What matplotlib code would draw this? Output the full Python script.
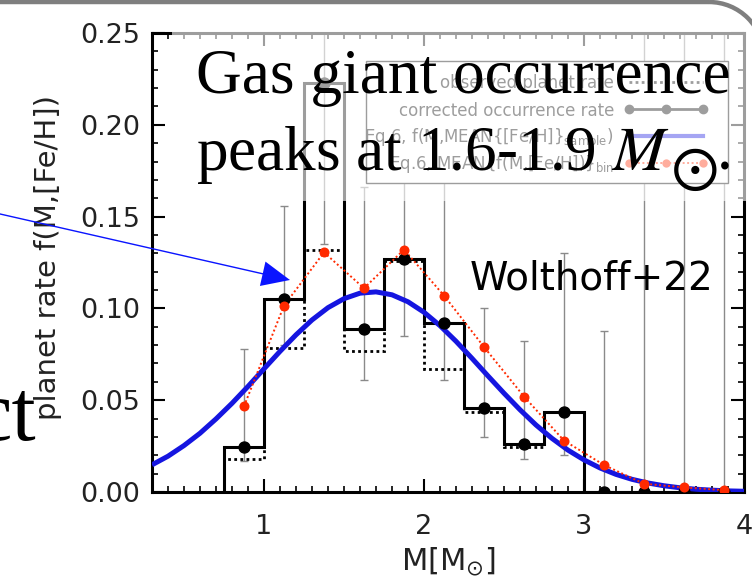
import matplotlib
matplotlib.use('Agg')
import matplotlib.pyplot as plt
from matplotlib.patches import Rectangle, Arc, FancyArrow
from matplotlib.ticker import MultipleLocator, FormatStrFormatter

plt.rcParams['font.family'] = ['DejaVu Sans']
plt.rcParams['mathtext.fontset'] = 'dejavusans'

# ---------------- data ----------------
bin_edges = [0.75, 1.00, 1.25, 1.50, 1.75, 2.00, 2.25, 2.50, 2.75, 3.00, 3.25, 3.50, 3.75, 4.00]
bin_centers = [0.875, 1.125, 1.375, 1.625, 1.875, 2.125, 2.375, 2.625, 2.875, 3.125, 3.375, 3.625, 3.875]
observed_rate = [0.018, 0.0785, 0.132, 0.0767, 0.126, 0.067, 0.0437, 0.0245, 0.0435, 0, 0, 0, 0]
corrected_rate = [0.0245, 0.105, 0.223, 0.089, 0.127, 0.092, 0.0457, 0.026, 0.0435, 0, 0, 0, 0]
corrected_lo = [0.017, 0.080, 0.135, 0.061, 0.085, 0.061, 0.030, 0.018, 0.020, 0, 0, 0, 0]
corrected_hi = [0.078, 0.156, 0.300, 0.166, 0.200, 0.200, 0.100, 0.082, 0.130, 0.0875, 0.300, 0.300, 0.300]
eq6_bin_mean = [0.0467, 0.1015, 0.1305, 0.111, 0.132, 0.107, 0.079, 0.052, 0.028, 0.0147, 0.0045, 0.0025, 0.001]
model_mass = [0.3, 0.4, 0.5, 0.6, 0.7, 0.8, 0.9, 1.0, 1.1, 1.2, 1.3, 1.4, 1.5, 1.6, 1.7, 1.8, 1.9,
              2.0, 2.1, 2.2, 2.3, 2.4, 2.5, 2.6, 2.7, 2.8, 2.9, 3.0, 3.1, 3.2, 3.3, 3.4, 3.5, 3.6,
              3.7, 3.8, 3.9, 4.0]
model_rate = [0.0148, 0.0195, 0.0253, 0.0320, 0.0398, 0.0483, 0.0575, 0.0671, 0.0766, 0.0856,
              0.0937, 0.1004, 0.1053, 0.1083, 0.1090, 0.1074, 0.1036, 0.0979, 0.0906, 0.0821,
              0.0728, 0.0632, 0.0538, 0.0448, 0.0365, 0.0292, 0.0228, 0.0175, 0.0131, 0.0096,
              0.0069, 0.0049, 0.0034, 0.0023, 0.0015, 0.0010, 0.0006, 0.0004]
legend_labels = ['observed planet rate',
                 'corrected occurrence rate',
                 r'Eq.6, f(M,MEAN{[Fe/H]}$_{\rm sample}$)',
                 r'Eq.6, MEAN{f(M,[Fe/H])}$_{\rm bin}$']
x_label = r'M[M$_{\odot}$]'
y_label = 'planet rate f(M,[Fe/H])'

BLUE = '#1515e0'
RED = '#ff2a00'
GRAY = '#8a8a8a'

W, H = 752, 576
fig = plt.figure(figsize=(W / 100, H / 100), dpi=100)
ax = fig.add_axes([152 / W, 84 / H, 592 / W, 459 / H])

err_low = [c - lo for c, lo in zip(corrected_rate, corrected_lo)]
err_high = [hi - c for c, hi in zip(corrected_rate, corrected_hi)]
ax.errorbar(bin_centers, corrected_rate, yerr=[err_low, err_high], fmt='none',
            ecolor=GRAY, elinewidth=1.0, capsize=3.2, capthick=1.0, zorder=2)
ax.stairs(observed_rate, bin_edges, baseline=0, color='k', lw=2.0,
          linestyle=(0, (1, 1.2)), zorder=3)
ax.stairs(corrected_rate, bin_edges, baseline=0, color='k', lw=2.2, zorder=3.5)
ax.plot(model_mass, model_rate, color=BLUE, lw=3.6, zorder=4, solid_capstyle='butt')
ax.plot(bin_centers, eq6_bin_mean, color=RED, lw=1.4, ls=(0, (1, 1.3)), zorder=5)
ax.plot(bin_centers, corrected_rate, 'o', color='k', ms=7.9, zorder=5.5)
ax.plot(bin_centers, eq6_bin_mean, 'o', color=RED, ms=7.2, mec='none', zorder=6)

ax.set_xlim(0.3, 4.0)
ax.set_ylim(0, 0.25)
ax.xaxis.set_major_locator(MultipleLocator(1))
ax.xaxis.set_minor_locator(MultipleLocator(0.1))
ax.yaxis.set_major_locator(MultipleLocator(0.05))
ax.yaxis.set_minor_locator(MultipleLocator(0.01))
ax.yaxis.set_major_formatter(FormatStrFormatter('%.2f'))
ax.tick_params(which='both', direction='in', top=True, right=True, colors='k')
ax.tick_params(which='major', length=9.4, width=1.5, labelsize=19.5, labelcolor='#222222')
ax.tick_params(which='minor', length=4.3, width=1.2)
ax.tick_params(axis='x', pad=15.5)
ax.tick_params(axis='y', pad=8.6)
for sp in ax.spines.values():
    sp.set_linewidth(2.2)

ax.set_xlabel(x_label, fontsize=22, labelpad=4, color='#222222')
ax.set_ylabel(y_label, fontsize=21, color='#222222')
ax.yaxis.set_label_coords(-0.152, 0.51)

# ---------------- slide overlay (pixel coordinates, origin top-left) ----------------
ov = fig.add_axes([0, 0, 1, 1], zorder=10)
ov.set_xlim(0, W)
ov.set_ylim(H, 0)
ov.axis('off')
ov.patch.set_alpha(0)

# legend box of the plot (lies under the translucent text box)
ov.add_patch(Rectangle((366, 61), 362, 122, facecolor='white', edgecolor='k', lw=1.0,
                       zorder=0.3))
row_y = [82, 109, 136, 163]
row_base = [88, 116, 143, 169]
hx = [629, 666, 703]
ov.plot([hx[0], hx[-1]], [row_y[0]] * 2, color='k', lw=2.0, ls=(0, (1, 1.2)), zorder=0.5)
ov.plot(hx, [row_y[1]] * 3, color='k', lw=2.0, marker='o', ms=6, zorder=0.5)
ov.plot([hx[0], hx[-1]], [row_y[2]] * 2, color=BLUE, lw=3.0, zorder=0.5)
ov.plot(hx, [row_y[3]] * 3, color=RED, lw=1.4, ls=(0, (1, 1.3)), marker='o', ms=6,
        mec='none', zorder=0.5)
for lab, yb in zip(legend_labels, row_base):
    ov.text(614, yb, lab, fontsize=12, ha='right', va='baseline', color='k', zorder=0.5)

ov.add_patch(Rectangle((172, -10), 600, 211, facecolor='white', alpha=0.62,
                       edgecolor='none', zorder=1))
ov.text(196, 93, 'Gas giant occurrence', fontfamily='Liberation Serif', fontsize=45.5,
        ha='left', va='baseline', color='k', zorder=3)
ov.text(196, 170, r'peaks at 1.6-1.9 $M$', fontfamily='Liberation Serif',
        fontsize=45.5, ha='left', va='baseline', color='k', math_fontfamily='stix',
        zorder=3)
ov.text(671, 186, '\u2299', fontfamily='STIXGeneral', fontsize=46,
        ha='left', va='baseline', color='k', zorder=3)
ov.text(717, 170, '.', fontfamily='Liberation Serif', fontsize=45.5,
        ha='left', va='baseline', color='k', zorder=3)

ov.text(470, 289, 'Wolthoff+22', fontsize=28, ha='left', va='baseline', color='k', zorder=3)
ov.text(36, 440, 'ct', fontfamily='Liberation Serif', fontsize=62.6, ha='right',
        va='baseline', color='k', zorder=3)
ov.add_patch(FancyArrow(-10, 211.7, 300, 68.3, width=1.4, head_width=25, head_length=28,
                        length_includes_head=True, color='#0a14ff', lw=0, zorder=4))
ov.plot([-5, 709], [2, 2], color='#7f7f7f', lw=3.2, solid_capstyle='butt', zorder=5)
ov.add_patch(Arc((709, 57), 110, 110, theta1=270, theta2=360, color='#7f7f7f', lw=3.2,
                 zorder=5))

fig.savefig('out.png', dpi=100)
